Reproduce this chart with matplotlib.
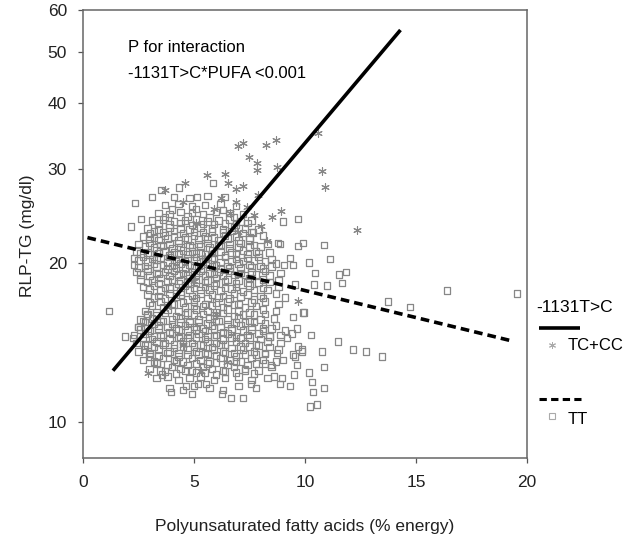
import matplotlib
matplotlib.use('Agg')
import matplotlib.pyplot as plt
from matplotlib.lines import Line2D
from matplotlib.ticker import FixedLocator, FixedFormatter, NullLocator

plt.rcParams['font.family'] = ['Liberation Sans', 'DejaVu Sans']

# TT genotype: PUFA (% energy) vs RLP-TG (mg/dl)
tt_pufa = [
    3.9, 4.5, 5.0, 5.7, 6.3, 7.0, 7.8,
    3.3, 3.8, 4.3, 4.8, 5.3, 5.9, 6.4, 7.0, 7.6, 8.3,
    3.0, 3.5, 4.0, 4.4, 4.9, 5.4, 5.8, 6.3, 6.8, 7.3, 7.9, 8.5,
    2.7, 3.2, 3.6, 4.1, 4.5, 4.9, 5.3, 5.7, 6.2, 6.6, 7.1, 7.6, 8.1, 8.7,
    2.5, 3.0, 3.4, 3.9, 4.3, 4.7, 5.1, 5.5, 5.9, 6.3, 6.8, 7.2, 7.7, 8.2, 8.8,
    2.4, 2.9, 3.3, 3.7, 4.1, 4.5, 4.9, 5.3, 5.6, 6.0, 6.4, 6.9, 7.3, 7.8, 8.3, 8.9,
    2.3, 2.8, 3.2, 3.6, 4.0, 4.4, 4.8, 5.2, 5.6, 6.0, 6.5, 6.9, 7.4, 7.9, 8.4, 8.9,
    2.5, 2.9, 3.4, 3.8, 4.2, 4.6, 5.0, 5.4, 5.8, 6.2, 6.7, 7.1, 7.6, 8.1, 8.7,
    2.6, 3.1, 3.5, 4.0, 4.4, 4.8, 5.2, 5.7, 6.1, 6.5, 7.0, 7.5, 8.0, 8.6,
    2.8, 3.3, 3.8, 4.3, 4.7, 5.1, 5.6, 6.0, 6.5, 7.0, 7.5, 8.1, 8.7,
    3.0, 3.5, 4.0, 4.5, 5.0, 5.5, 6.0, 6.5, 7.0, 7.6, 8.2, 8.8,
    2.9, 3.4, 3.9, 4.4, 4.9, 5.3, 5.8, 6.3, 6.8, 7.4, 8.0, 8.7,
    2.7, 3.2, 3.7, 4.2, 4.6, 5.0, 5.5, 5.9, 6.4, 6.9, 7.5, 8.1, 8.8,
    2.6, 3.1, 3.5, 4.0, 4.4, 4.8, 5.2, 5.6, 6.0, 6.5, 7.0, 7.5, 8.1, 8.8,
    2.4, 2.9, 3.3, 3.7, 4.1, 4.5, 4.9, 5.3, 5.7, 6.1, 6.6, 7.1, 7.6, 8.2, 8.9,
    2.3, 2.8, 3.2, 3.6, 4.0, 4.4, 4.8, 5.2, 5.6, 6.0, 6.5, 7.0, 7.5, 8.0, 8.7,
    2.3, 2.7, 3.1, 3.5, 3.9, 4.3, 4.7, 5.1, 5.5, 5.9, 6.4, 6.9, 7.4, 7.9, 8.5,
    2.4, 2.9, 3.3, 3.7, 4.1, 4.5, 4.9, 5.3, 5.8, 6.2, 6.7, 7.2, 7.8, 8.4,
    2.5, 3.0, 3.5, 3.9, 4.3, 4.8, 5.2, 5.6, 6.1, 6.6, 7.1, 7.7, 8.3,
    2.7, 3.2, 3.7, 4.1, 4.6, 5.0, 5.5, 5.9, 6.4, 6.9, 7.5, 8.1,
    2.9, 3.4, 3.9, 4.4, 4.8, 5.3, 5.8, 6.3, 6.8, 7.3, 7.9,
    3.1, 3.6, 4.1, 4.6, 5.1, 5.6, 6.1, 6.6, 7.1, 7.6,
    3.4, 3.9, 4.4, 4.9, 5.4, 6.0, 6.6, 7.2,
    3.7, 4.3, 4.9, 5.5, 6.2, 6.9,
    4.1, 4.8, 5.6, 6.4,
    # denser core
    4.2, 5.1, 6.0, 6.9, 7.7,
    3.8, 4.7, 5.6, 6.5, 7.4, 8.2,
    3.4, 4.3, 5.2, 6.0, 6.9, 7.8,
    3.2, 4.1, 5.0, 5.8, 6.7, 7.5, 8.4,
    3.1, 3.9, 4.7, 5.5, 6.3, 7.1, 8.0,
    3.0, 3.9, 4.7, 5.5, 6.3, 7.2, 8.1,
    3.2, 4.0, 4.8, 5.6, 6.5, 7.3, 8.2,
    3.3, 4.2, 5.0, 5.9, 6.8, 7.7,
    3.6, 4.6, 5.4, 6.3, 7.3,
    3.7, 4.7, 5.6, 6.6, 7.7,
    3.5, 4.4, 5.3, 6.2, 7.2, 8.3,
    3.4, 4.3, 5.1, 6.0, 6.9, 7.9,
    3.0, 3.9, 4.7, 5.5, 6.3, 7.3, 8.4,
    2.9, 3.8, 4.6, 5.4, 6.2, 7.1, 8.1,
    2.9, 3.8, 4.6, 5.4, 6.2, 7.2, 8.2,
    3.0, 3.9, 4.7, 5.5, 6.4, 7.4,
    3.2, 4.0, 4.9, 5.7, 6.6, 7.5,
    3.4, 4.3, 5.2, 6.1, 7.0,
    3.6, 4.5, 5.4, 6.3, 7.2,
    3.9, 4.9, 5.9, 6.9,
    # third layer, fills the gaps of the core
    3.7, 4.6, 5.5, 6.4, 7.3,
    3.3, 4.2, 5.1, 6.0, 6.9, 7.8,
    3.0, 3.8, 4.7, 5.6, 6.4, 7.3, 8.2,
    2.8, 3.6, 4.5, 5.4, 6.2, 7.1, 7.9,
    2.7, 3.5, 4.3, 5.1, 5.9, 6.7, 7.5, 8.4,
    2.6, 3.4, 4.3, 5.1, 5.9, 6.7, 7.6, 8.5,
    2.8, 3.6, 4.4, 5.2, 6.0, 6.9, 7.7,
    2.9, 3.7, 4.6, 5.4, 6.3, 7.2, 8.2,
    3.1, 4.1, 5.0, 5.8, 6.8, 7.8,
    3.2, 4.2, 5.1, 6.1, 7.1, 8.1,
    3.0, 3.9, 4.8, 5.7, 6.7, 7.7,
    2.9, 3.8, 4.7, 5.5, 6.4, 7.4, 8.4,
    2.6, 3.4, 4.3, 5.1, 5.9, 6.8, 7.8,
    2.5, 3.3, 4.2, 5.0, 5.8, 6.6, 7.6, 8.5,
    2.5, 3.3, 4.2, 5.0, 5.8, 6.7, 7.7,
    2.6, 3.4, 4.3, 5.1, 5.9, 6.9, 7.9,
    2.8, 3.6, 4.4, 5.3, 6.2, 7.0, 8.0,
    3.0, 3.8, 4.7, 5.6, 6.5, 7.5,
    3.2, 4.1, 5.0, 5.8, 6.7, 7.6,
    3.4, 4.4, 5.4, 6.4, 7.4,
    3.7, 4.7, 5.7, 6.8,
    4.0, 5.1, 6.3,
    # outer points
    5.86, 3.51, 4.32, 3.11, 2.34, 2.61, 2.16, 3.02, 5.14, 9.01, 9.68, 9.91,
    9.68, 10.86, 10.18, 11.13, 10.45, 11.53, 8.78, 7.66, 9.32, 9.46, 8.87,
    9.05, 11.85, 11.67, 10.99, 10.41, 9.55, 9.10, 16.4, 19.55, 13.74, 14.73,
    9.91, 9.46, 9.64, 10.27, 11.49, 10.77, 12.16, 12.75, 13.47, 9.86, 9.46,
    9.10, 1.17, 1.89, 2.25, 2.48, 2.70, 2.88, 2.75, 3.02, 3.33, 3.56, 3.96,
    4.91, 6.26, 6.67, 7.21, 4.64, 5.18, 5.54, 7.57, 8.87, 9.32, 8.96, 9.95,
    9.41, 9.68, 10.86, 10.18, 10.32, 10.36, 10.86, 10.23, 10.54, 9.86, 9.19,
    9.55, 9.64, 9.50, 8.60, 8.47, 8.74, 9.01,
]
tt_rlp = [
    11.6, 11.5, 11.7, 11.6, 11.5, 11.7, 11.6,
    12.1, 12.2, 12.0, 12.1, 12.2, 12.0, 12.1, 12.2, 12.0, 12.1,
    12.6, 12.5, 12.7, 12.6, 12.5, 12.7, 12.6, 12.5, 12.7, 12.6, 12.5, 12.7,
    13.1, 13.0, 13.2, 13.1, 13.0, 13.2, 13.1, 13.0, 13.2, 13.1, 13.0, 13.2, 13.1, 13.0,
    13.6, 13.5, 13.7, 13.6, 13.5, 13.7, 13.6, 13.5, 13.7, 13.6, 13.5, 13.7, 13.6, 13.5, 13.7,
    14.1, 14.0, 14.2, 14.1, 14.0, 14.2, 14.1, 14.0, 14.2, 14.1, 14.0, 14.2, 14.1, 14.0, 14.2, 14.1,
    14.6, 14.7, 14.5, 14.6, 14.7, 14.5, 14.6, 14.7, 14.5, 14.6, 14.7, 14.5, 14.6, 14.7, 14.5, 14.6,
    15.1, 15.0, 15.2, 15.1, 15.0, 15.2, 15.1, 15.0, 15.2, 15.1, 15.0, 15.2, 15.1, 15.0, 15.2,
    15.6, 15.7, 15.5, 15.6, 15.7, 15.5, 15.6, 15.7, 15.5, 15.6, 15.7, 15.5, 15.6, 15.7,
    16.2, 16.1, 16.3, 16.2, 16.1, 16.3, 16.2, 16.1, 16.3, 16.2, 16.1, 16.3, 16.2,
    16.8, 16.9, 16.7, 16.8, 16.9, 16.7, 16.8, 16.9, 16.7, 16.8, 16.9, 16.7,
    17.4, 17.3, 17.5, 17.4, 17.3, 17.5, 17.4, 17.3, 17.5, 17.4, 17.3, 17.5,
    18.0, 18.1, 17.9, 18.0, 18.1, 17.9, 18.0, 18.1, 17.9, 18.0, 18.1, 17.9, 18.0,
    18.6, 18.5, 18.7, 18.6, 18.5, 18.7, 18.6, 18.5, 18.7, 18.6, 18.5, 18.7, 18.6, 18.5,
    19.2, 19.3, 19.1, 19.2, 19.3, 19.1, 19.2, 19.3, 19.1, 19.2, 19.3, 19.1, 19.2, 19.3, 19.1,
    19.8, 19.7, 19.9, 19.8, 19.7, 19.9, 19.8, 19.7, 19.9, 19.8, 19.7, 19.9, 19.8, 19.7, 19.9,
    20.4, 20.5, 20.3, 20.4, 20.5, 20.3, 20.4, 20.5, 20.3, 20.4, 20.5, 20.3, 20.4, 20.5, 20.3,
    21.0, 20.9, 21.1, 21.0, 20.9, 21.1, 21.0, 20.9, 21.1, 21.0, 20.9, 21.1, 21.0, 20.9,
    21.7, 21.8, 21.6, 21.7, 21.8, 21.6, 21.7, 21.8, 21.6, 21.7, 21.8, 21.6, 21.7,
    22.4, 22.3, 22.5, 22.4, 22.3, 22.5, 22.4, 22.3, 22.5, 22.4, 22.3, 22.5,
    23.2, 23.1, 23.3, 23.2, 23.1, 23.3, 23.2, 23.1, 23.3, 23.2, 23.1,
    24.0, 24.1, 23.9, 24.0, 24.1, 23.9, 24.0, 24.1, 23.9, 24.0,
    24.8, 24.7, 24.9, 24.8, 24.7, 24.9, 24.8, 24.7,
    25.7, 25.8, 25.6, 25.7, 25.8, 25.6,
    26.6, 26.5, 26.7, 26.6,
    # denser core
    12.35, 12.4, 12.3, 12.4, 12.35,
    12.85, 12.8, 12.9, 12.85, 12.8, 12.9,
    13.35, 13.3, 13.4, 13.35, 13.3, 13.4,
    13.85, 13.8, 13.9, 13.85, 13.8, 13.9, 13.85,
    14.35, 14.3, 14.4, 14.35, 14.3, 14.4, 14.35,
    14.85, 14.8, 14.9, 14.85, 14.8, 14.9, 14.85,
    15.35, 15.3, 15.4, 15.35, 15.3, 15.4, 15.35,
    15.9, 15.85, 15.95, 15.9, 15.85, 15.95,
    16.5, 16.45, 16.55, 16.5, 16.45,
    17.1, 17.05, 17.15, 17.1, 17.05,
    17.7, 17.65, 17.75, 17.7, 17.65, 17.75,
    18.3, 18.25, 18.35, 18.3, 18.25, 18.35,
    18.9, 18.85, 18.95, 18.9, 18.85, 18.95, 18.9,
    19.5, 19.45, 19.55, 19.5, 19.45, 19.55, 19.5,
    20.1, 20.05, 20.15, 20.1, 20.05, 20.15, 20.1,
    20.7, 20.65, 20.75, 20.7, 20.65, 20.75,
    21.35, 21.3, 21.4, 21.35, 21.3, 21.4,
    22.05, 22.0, 22.1, 22.05, 22.0,
    22.8, 22.75, 22.85, 22.8, 22.75,
    23.6, 23.55, 23.65, 23.6,
    # third layer
    12.45, 12.5, 12.4, 12.45, 12.5,
    12.95, 13.0, 12.9, 12.95, 13.0, 12.9,
    13.45, 13.5, 13.4, 13.45, 13.5, 13.4, 13.45,
    13.95, 14.0, 13.9, 13.95, 14.0, 13.9, 13.95,
    14.45, 14.5, 14.4, 14.45, 14.5, 14.4, 14.45, 14.5,
    14.95, 15.0, 14.9, 14.95, 15.0, 14.9, 14.95, 15.0,
    15.45, 15.5, 15.4, 15.45, 15.5, 15.4, 15.45,
    16.0, 16.05, 15.95, 16.0, 16.05, 15.95, 16.0,
    16.6, 16.65, 16.55, 16.6, 16.65, 16.55,
    17.2, 17.25, 17.15, 17.2, 17.25, 17.15,
    17.8, 17.85, 17.75, 17.8, 17.85, 17.75,
    18.4, 18.45, 18.35, 18.4, 18.45, 18.35, 18.4,
    19.0, 19.05, 18.95, 19.0, 19.05, 18.95, 19.0,
    19.6, 19.65, 19.55, 19.6, 19.65, 19.55, 19.6, 19.65,
    20.2, 20.25, 20.15, 20.2, 20.25, 20.15, 20.2,
    20.8, 20.85, 20.75, 20.8, 20.85, 20.75, 20.8,
    21.45, 21.5, 21.4, 21.45, 21.5, 21.4, 21.45,
    22.15, 22.2, 22.1, 22.15, 22.2, 22.1,
    22.9, 22.95, 22.85, 22.9, 22.95, 22.85,
    23.7, 23.75, 23.65, 23.7, 23.75,
    24.4, 24.45, 24.35, 24.4,
    25.2, 25.25, 25.15,
    # outer points
    28.3, 27.4, 27.7, 26.6, 25.9, 24.2, 23.4, 22.7, 26.6, 23.9, 24.2, 21.8,
    21.5, 21.6, 20.0, 20.3, 19.1, 19.0, 21.8, 22.8, 20.4, 19.8, 21.7,
    19.8, 19.2, 18.3, 18.1, 18.2, 18.2, 17.2, 17.7, 17.5, 16.9, 16.5,
    16.1, 15.8, 15.0, 14.6, 14.2, 13.6, 13.7, 13.6, 13.3, 13.6, 13.4,
    14.9, 16.2, 14.5, 14.4, 15.1, 15.5, 15.9, 13.7, 13.3, 12.9, 12.3, 11.4,
    11.3, 11.3, 11.1, 11.1, 11.7, 11.8, 11.8, 11.8, 11.8, 11.7, 12.1, 16.1,
    14.7, 13.9, 12.7, 12.4, 11.9, 11.4, 11.6, 10.7, 10.8, 13.7, 14.4,
    13.3, 12.8, 12.3, 12.2, 12.8, 13.5, 13.1,
]

# TC+CC genotype
tc_pufa = [6.98, 7.2, 8.24, 8.69, 7.48, 7.84, 7.84, 8.74, 5.59, 6.40, 6.53,
           7.2, 6.89, 8.51, 10.77, 10.9, 4.59, 3.69, 10.59, 12.34, 9.68, 2.93,
           6.2, 6.9, 7.4, 5.9, 7.7, 8.0, 6.6, 7.0, 8.3, 5.1, 4.5, 7.9, 8.9,
           5.0, 6.0, 4.5, 5.5, 6.5, 3.8, 7.0, 5.3]
tc_rlp = [33.2, 33.6, 33.3, 34.1, 31.7, 30.8, 29.9, 30.3, 29.3, 29.4, 28.3,
          27.9, 27.6, 24.4, 29.8, 27.8, 28.3, 27.4, 35.2, 23.0, 16.9, 12.4,
          26.5, 26.0, 25.5, 25.2, 24.6, 23.5, 24.8, 22.8, 22.0, 23.8, 26.0,
          26.8, 25.0, 18.5, 16.0, 14.0, 20.5, 13.0, 16.5, 19.0, 12.5]

# regression lines
tc_line_x = [1.35, 14.3]
tc_line_y = [12.5, 55.0]
tt_line_x = [0.2, 19.4]
tt_line_y = [22.3, 14.2]

gray = '#878787'
asterisk = (6, 2, 0)

fig = plt.figure(figsize=(6.36, 5.43), dpi=100)
ax = fig.add_axes([83 / 636, 1 - 458 / 543, 444 / 636, 448 / 543])

ax.scatter(tt_pufa, tt_rlp, marker='s', s=22, facecolors='none',
           edgecolors=gray, linewidths=0.9, zorder=2)
ax.scatter(tc_pufa, tc_rlp, marker=asterisk, s=30, color=gray,
           linewidths=0.8, zorder=3)
ax.plot(tc_line_x, tc_line_y, color='black', lw=2.6, solid_capstyle='butt', zorder=4)
ax.plot(tt_line_x, tt_line_y, color='black', lw=2.6, dashes=(2.4, 1.4), zorder=4)

ax.set_yscale('log')
ax.set_xlim(0, 20)
ax.set_ylim(8.55, 60)
ax.yaxis.set_major_locator(FixedLocator([10, 20, 30, 40, 50, 60]))
ax.yaxis.set_major_formatter(FixedFormatter(['10', '20', '30', '40', '50', '60']))
ax.yaxis.set_minor_locator(NullLocator())
ax.set_xticks([0, 5, 10, 15, 20])
ax.tick_params(axis='both', direction='out', length=3.5, width=0.9,
               color='#555555', labelsize=12.5, labelcolor='#222222')
ax.tick_params(axis='y', pad=8)
ax.tick_params(axis='x', pad=9)
for sp in ax.spines.values():
    sp.set_color('#666666')
    sp.set_linewidth(1.1)

ax.text(0.101, 0.917, 'P for interaction', transform=ax.transAxes,
        fontsize=12, va='center', ha='left')
ax.text(0.101, 0.859, '-1131T>C*PUFA <0.001', transform=ax.transAxes,
        fontsize=12, va='center', ha='left')

fig.text(305 / 636, 1 - 526 / 543, 'Polyunsaturated fatty acids (% energy)',
         fontsize=12.5, ha='center', va='center', color='#222222')
fig.text(28 / 636, 1 - 236 / 543, 'RLP-TG (mg/dl)', rotation=90,
         fontsize=12.5, ha='center', va='center', color='#222222')

# legend drawn outside the axes on the right
def fx(px):
    return px / 636

def fy(py):
    return 1 - py / 543

fig.text(fx(536), fy(308), '-1131T>C', fontsize=12.5, ha='left', va='center')
fig.add_artist(Line2D([fx(539), fx(580)], [fy(328), fy(328)], color='black',
                      lw=2.6, solid_capstyle='butt', transform=fig.transFigure))
fig.add_artist(Line2D([fx(552)], [fy(345)], marker=asterisk, markersize=5,
                      color='#aaaaaa', mew=0.7, transform=fig.transFigure))
fig.text(fx(568), fy(345), 'TC+CC', fontsize=12, ha='left', va='center')
fig.add_artist(Line2D([fx(539), fx(581)], [fy(399), fy(399)], color='black',
                      lw=2.2, dashes=(2.4, 1.4), transform=fig.transFigure))
fig.add_artist(Line2D([fx(552)], [fy(416)], marker='s', markersize=4,
                      mfc='none', mec='#aaaaaa', mew=0.8, transform=fig.transFigure))
fig.text(fx(568), fy(420), 'TT', fontsize=12, ha='left', va='center')

fig.savefig('out.png', dpi=100)
